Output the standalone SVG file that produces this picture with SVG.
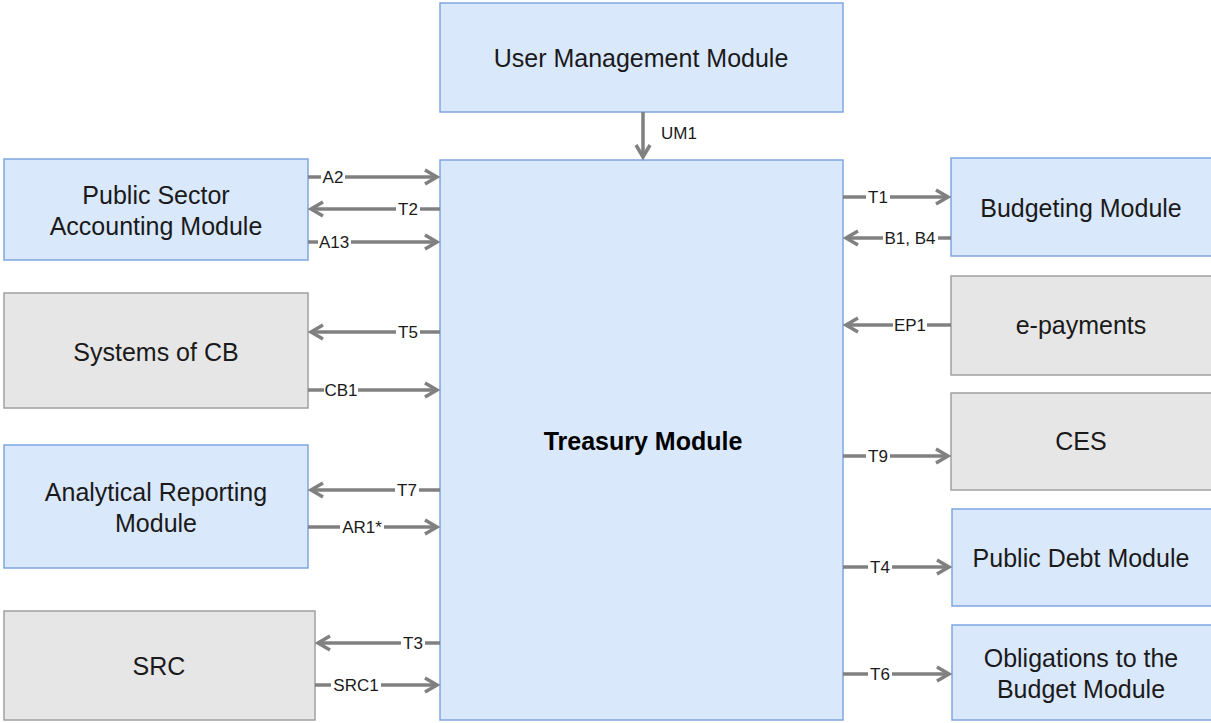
<svg xmlns="http://www.w3.org/2000/svg" width="1211" height="723" viewBox="0 0 1211 723">
<style>
.blue{fill:#dae8fc;stroke:#7ea6e0;stroke-width:1.5}
.gray{fill:#e6e6e6;stroke:#a0a0a0;stroke-width:1.5}
.t{font-family:"Liberation Sans",Arial,sans-serif;font-size:25px;fill:#1a1a1a;text-anchor:middle}
.b{font-weight:bold;fill:#000}
.ln{stroke:#808080;stroke-width:3.5;fill:none;marker-end:url(#ah)}
.lb{font-family:"Liberation Sans",Arial,sans-serif;font-size:17px;fill:#1a1a1a;text-anchor:middle}
.bg{fill:#fff}
</style>
<defs>
<marker id="ah" markerUnits="userSpaceOnUse" markerWidth="20" markerHeight="20" refX="13" refY="8" orient="auto" overflow="visible">
<path d="M1,1 L13,8 L1,15" fill="none" stroke="#808080" stroke-width="3.5" stroke-linejoin="miter"/>
</marker>
</defs>
<rect width="1211" height="723" fill="#fff"/>
<g id="treasury"><rect class="blue" x="440" y="160" width="403" height="560"/><text class="t b" x="643" y="450">Treasury Module</text></g>
<g id="user-management"><rect class="blue" x="440" y="3" width="403" height="109"/><text class="t" x="641" y="67">User Management Module</text></g>
<g id="public-sector"><rect class="blue" x="4" y="159" width="304" height="101"/><text class="t" x="156" y="204">Public Sector</text><text class="t" x="156" y="235">Accounting Module</text></g>
<g id="systems-cb"><rect class="gray" x="4" y="293" width="304" height="115"/><text class="t" x="156" y="361">Systems of CB</text></g>
<g id="analytical"><rect class="blue" x="4" y="445" width="304" height="123"/><text class="t" x="156" y="501">Analytical Reporting</text><text class="t" x="156" y="532">Module</text></g>
<g id="src"><rect class="gray" x="4" y="611" width="311" height="109"/><text class="t" x="159" y="675">SRC</text></g>
<g id="budgeting"><rect class="blue" x="951" y="158" width="261" height="98"/><text class="t" x="1081" y="217">Budgeting Module</text></g>
<g id="epayments"><rect class="gray" x="951" y="276" width="261" height="99"/><text class="t" x="1081" y="334">e-payments</text></g>
<g id="ces"><rect class="gray" x="951" y="393" width="261" height="97"/><text class="t" x="1081" y="450">CES</text></g>
<g id="public-debt"><rect class="blue" x="952" y="509" width="260" height="97"/><text class="t" x="1081" y="567">Public Debt Module</text></g>
<g id="obligations"><rect class="blue" x="952" y="625" width="260" height="95"/><text class="t" x="1081" y="667">Obligations to the</text><text class="t" x="1081" y="698">Budget Module</text></g>
<g id="connectors">
<line class="ln" x1="643" y1="112" x2="643" y2="157"/>
<text class="lb" x="679" y="139">UM1</text>
<line class="ln" x1="308" y1="177" x2="437" y2="177"/>
<line class="ln" x1="440" y1="209" x2="311" y2="209"/>
<line class="ln" x1="308" y1="242" x2="437" y2="242"/>
<line class="ln" x1="440" y1="332" x2="311" y2="332"/>
<line class="ln" x1="308" y1="390" x2="437" y2="390"/>
<line class="ln" x1="440" y1="490" x2="311" y2="490"/>
<line class="ln" x1="308" y1="527" x2="437" y2="527"/>
<line class="ln" x1="440" y1="643" x2="318" y2="643"/>
<line class="ln" x1="315" y1="685" x2="437" y2="685"/>
<line class="ln" x1="843" y1="197" x2="948" y2="197"/>
<line class="ln" x1="951" y1="238" x2="846" y2="238"/>
<line class="ln" x1="951" y1="325" x2="846" y2="325"/>
<line class="ln" x1="843" y1="456" x2="948" y2="456"/>
<line class="ln" x1="843" y1="567" x2="949" y2="567"/>
<line class="ln" x1="843" y1="674" x2="949" y2="674"/>
<g class="bg">
<rect x="321" y="168" width="24" height="18"/>
<rect x="396" y="200" width="24" height="18"/>
<rect x="318" y="233" width="33" height="18"/>
<rect x="396" y="323" width="24" height="18"/>
<rect x="324" y="381" width="34" height="18"/>
<rect x="395" y="481" width="24" height="18"/>
<rect x="340" y="518" width="44" height="18"/>
<rect x="401" y="634" width="24" height="18"/>
<rect x="331" y="676" width="50" height="18"/>
<rect x="866" y="188" width="24" height="18"/>
<rect x="883" y="229" width="55" height="18"/>
<rect x="893" y="316" width="34" height="18"/>
<rect x="866" y="447" width="24" height="18"/>
<rect x="868" y="558" width="24" height="18"/>
<rect x="868" y="665" width="24" height="18"/>
</g>
<text class="lb" x="333" y="183">A2</text>
<text class="lb" x="408" y="215">T2</text>
<text class="lb" x="334" y="248">A13</text>
<text class="lb" x="408" y="338">T5</text>
<text class="lb" x="341" y="396">CB1</text>
<text class="lb" x="407" y="496">T7</text>
<text class="lb" x="362" y="533">AR1*</text>
<text class="lb" x="413" y="649">T3</text>
<text class="lb" x="356" y="691">SRC1</text>
<text class="lb" x="878" y="203">T1</text>
<text class="lb" x="910" y="244">B1, B4</text>
<text class="lb" x="910" y="331">EP1</text>
<text class="lb" x="878" y="462">T9</text>
<text class="lb" x="880" y="573">T4</text>
<text class="lb" x="880" y="680">T6</text>
</g>
</svg>
